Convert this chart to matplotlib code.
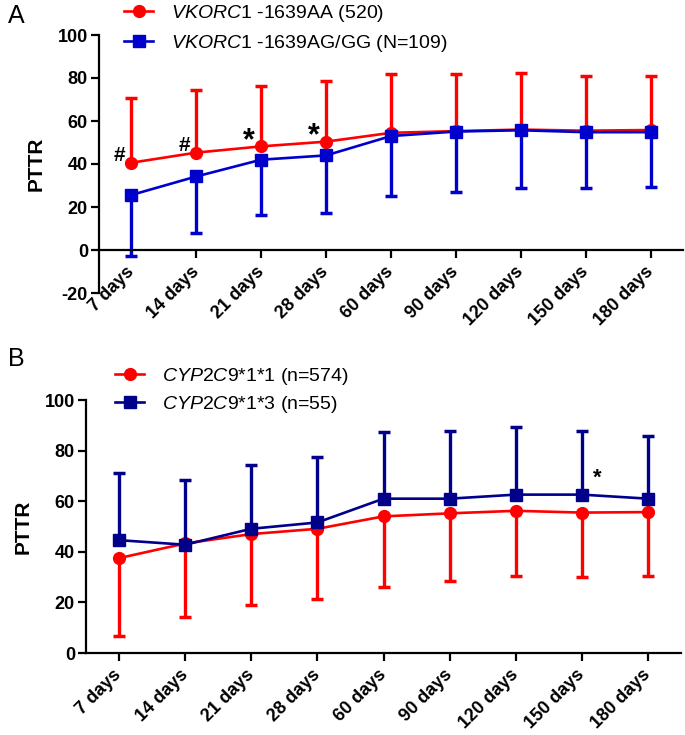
import numpy as np
import matplotlib.pyplot as plt

plt.rcParams['font.family'] = ['Liberation Sans', 'DejaVu Sans']
plt.rcParams['mathtext.fontset'] = 'custom'
plt.rcParams['mathtext.it'] = 'Liberation Sans:italic'
plt.rcParams['mathtext.rm'] = 'Liberation Sans'
plt.rcParams['axes.unicode_minus'] = False

days = ['7 days', '14 days', '21 days', '28 days', '60 days',
        '90 days', '120 days', '150 days', '180 days']

# A: VKORC1 -1639 genotypes (mean, SD)
vk_aa_mean = [40.6, 45.3, 48.2, 50.4, 54.5, 55.3, 56.0, 55.5, 55.8]
vk_aa_sd = [29.9, 29.2, 28.0, 28.0, 27.4, 26.6, 26.1, 25.4, 25.2]
vk_ag_mean = [25.6, 34.2, 42.0, 44.0, 53.0, 55.1, 55.7, 54.8, 54.8]
vk_ag_sd = [28.2, 26.3, 25.7, 26.9, 28.1, 28.0, 27.0, 26.1, 25.4]
vk_marks = ['#', '#', '*', '*', '', '', '', '', '']

# B: CYP2C9 genotypes (mean, SD)
cyp11_mean = [37.5, 43.3, 47.0, 49.1, 54.0, 55.2, 56.2, 55.5, 55.7]
cyp11_sd = [30.7, 29.0, 27.9, 27.9, 27.8, 26.7, 25.8, 25.5, 25.1]
cyp13_mean = [44.6, 42.8, 49.1, 51.6, 61.0, 61.0, 62.6, 62.6, 61.0]
cyp13_sd = [26.5, 25.5, 25.2, 26.0, 26.2, 26.7, 26.7, 25.3, 24.9]
cyp_marks = ['', '', '', '', '', '', '', '*', '']

RED = '#ff0000'
BLUE_A = '#0000cc'
BLUE_B = '#00008b'
W, H = 685, 735


def draw_series(ax, mean, sd, direction, color, marker, label):
    # one-sided SD bar (GraphPad style) plus mean line
    x = np.arange(len(days))
    mean = np.array(mean)
    end = mean + direction * np.array(sd)
    ax.vlines(x, mean, end, color=color, lw=2.4)
    ax.plot(x, end, ls='none', marker='_', ms=9, mew=2.5, color=color)
    line, = ax.plot(x, mean, color=color, lw=1.9, marker=marker, ms=8.5,
                    label=label)
    return line


def style_axes(ax, ylim, yticks):
    ax.set_xlim(-0.5, 8.5)
    ax.set_ylim(*ylim)
    ax.set_yticks(yticks)
    ax.spines['top'].set_visible(False)
    ax.spines['right'].set_visible(False)
    ax.spines['bottom'].set_position(('data', 0))
    for s in ('left', 'bottom'):
        ax.spines[s].set_linewidth(1.6)
    ax.tick_params(width=1.6, length=6, labelsize=13)
    ax.tick_params(axis='y', pad=2)
    ax.tick_params(axis='x', pad=8)
    ax.set_xticks(np.arange(len(days)))
    ax.set_xticklabels(days, rotation=45, ha='right', va='center',
                       rotation_mode='anchor', fontweight='bold')
    for t in ax.get_yticklabels():
        t.set_fontweight('bold')
    ax.set_ylabel('PTTR', fontsize=15, fontweight='bold')


def axes_px(left, right, top, bottom):
    return fig.add_axes([left / W, 1 - bottom / H, (right - left) / W,
                         (bottom - top) / H])


fig = plt.figure(figsize=(W / 100, H / 100), dpi=100)

# Panel A
axA = axes_px(99, 683, 35, 293)
style_axes(axA, (-20, 100), [-20, 0, 20, 40, 60, 80, 100])
la1 = draw_series(axA, vk_aa_mean, vk_aa_sd, 1, RED, 'o',
                  r'$\it{VKORC1}$ -1639AA (520)')
la2 = draw_series(axA, vk_ag_mean, vk_ag_sd, -1, BLUE_A, 's',
                  r'$\it{VKORC1}$ -1639AG/GG (N=109)')
axA.yaxis.set_label_coords(-0.092, 0.5)
for i, m in enumerate(vk_marks):
    if m == '#':
        axA.text(i - 0.18, vk_aa_mean[i] + 3.5, m, fontsize=15,
                 fontweight='bold', ha='center', va='center')
    elif m == '*':
        axA.text(i - 0.19, vk_aa_mean[i] + 2.5, m, fontsize=22,
                 fontweight='bold', ha='center', va='center')
axA.legend(handles=[la1, la2], loc='upper left',
           bbox_to_anchor=(124 / W, 1 - 3 / H), bbox_transform=fig.transFigure,
           frameon=False, fontsize=14, handlelength=1.5, handletextpad=0.9,
           borderpad=0, borderaxespad=0, labelspacing=0.45)

# Panel B
axB = axes_px(86, 681, 400, 653)
style_axes(axB, (0, 100), [0, 20, 40, 60, 80, 100])
lb1 = draw_series(axB, cyp11_mean, cyp11_sd, -1, RED, 'o',
                  r'$\it{CYP2C9}$*1*1 (n=574)')
lb2 = draw_series(axB, cyp13_mean, cyp13_sd, 1, BLUE_B, 's',
                  r'$\it{CYP2C9}$*1*3 (n=55)')
axB.yaxis.set_label_coords(-0.089, 0.5)
for i, m in enumerate(cyp_marks):
    if m:
        axB.text(i + 0.23, cyp13_mean[i] + 6.5, m, fontsize=16,
                 fontweight='bold', ha='center', va='center')
axB.legend(handles=[lb1, lb2], loc='upper left',
           bbox_to_anchor=(115 / W, 1 - 366 / H), bbox_transform=fig.transFigure,
           frameon=False, fontsize=14, handlelength=1.5, handletextpad=0.9,
           borderpad=0, borderaxespad=0, labelspacing=0.35)

fig.text(8 / W, 1 - 4 / H, 'A', fontsize=18, va='top', ha='left')
fig.text(8 / W, 1 - 347 / H, 'B', fontsize=18, va='top', ha='left')

fig.savefig('out.png', dpi=100)
